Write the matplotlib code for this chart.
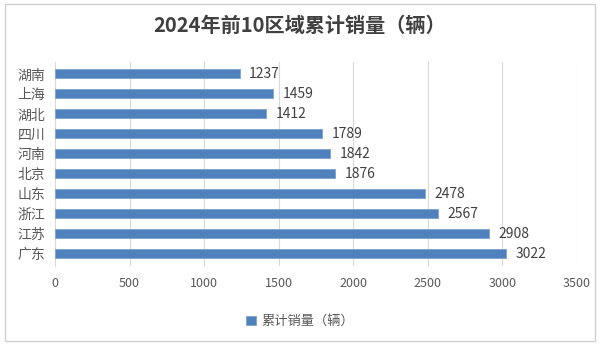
import matplotlib.pyplot as plt
from matplotlib.patches import Rectangle

plt.rcParams['font.family'] = ['Noto Sans CJK SC', 'DejaVu Sans']

# 各区域累计销量（辆）
regions = ['湖南', '上海', '湖北', '四川', '河南', '北京', '山东', '浙江', '江苏', '广东']
sales = [1237, 1459, 1412, 1789, 1842, 1876, 2478, 2567, 2908, 3022]
xticks = [0, 500, 1000, 1500, 2000, 2500, 3000, 3500]

bar_color = '#4F81BD'
text_color = '#595959'

fig = plt.figure(figsize=(6, 3.46), dpi=100)
fig.patches.append(Rectangle((0.008, 0.015), 0.984, 0.972, transform=fig.transFigure,
                             fill=False, edgecolor='#D0D0D0', linewidth=1))

ax = fig.add_axes([0.0917, 0.232, 0.87, 0.589])
bars = ax.barh(regions, sales, height=0.45, color=bar_color,
               edgecolor='#7FA2CF', linewidth=0.6, label='累计销量（辆）', zorder=3)
ax.set_ylim(9.6, -0.6)
ax.set_xlim(0, 3500)
ax.set_xticks(xticks)

for b, v in zip(bars, sales):
    ax.annotate(str(v), (v, b.get_y() + b.get_height() / 2), xytext=(7, 0),
                textcoords='offset points', va='center', ha='left',
                fontsize=10, color='#404040')

ax.grid(axis='x', color='#D9D9D9', linewidth=0.8, zorder=0)
for side in ['top', 'right', 'bottom']:
    ax.spines[side].set_visible(False)
ax.spines['left'].set_color('#D9D9D9')
ax.tick_params(axis='y', length=0, pad=7, labelsize=10, labelcolor=text_color)
ax.tick_params(axis='x', length=0, pad=8, labelsize=9, labelcolor=text_color)

fig.text(0.5, 0.925, '2024年前10区域累计销量（辆）', ha='center', va='center',
         fontsize=14.5, fontweight='bold', color='#404040')

fig.legend(handles=[bars], labels=['累计销量（辆）'], loc='center',
           bbox_to_anchor=(0.5, 0.07), frameon=False, fontsize=9.5,
           handlelength=0.7, handleheight=0.7, handletextpad=0.4,
           labelcolor=text_color)

fig.savefig('out.png', dpi=100)
